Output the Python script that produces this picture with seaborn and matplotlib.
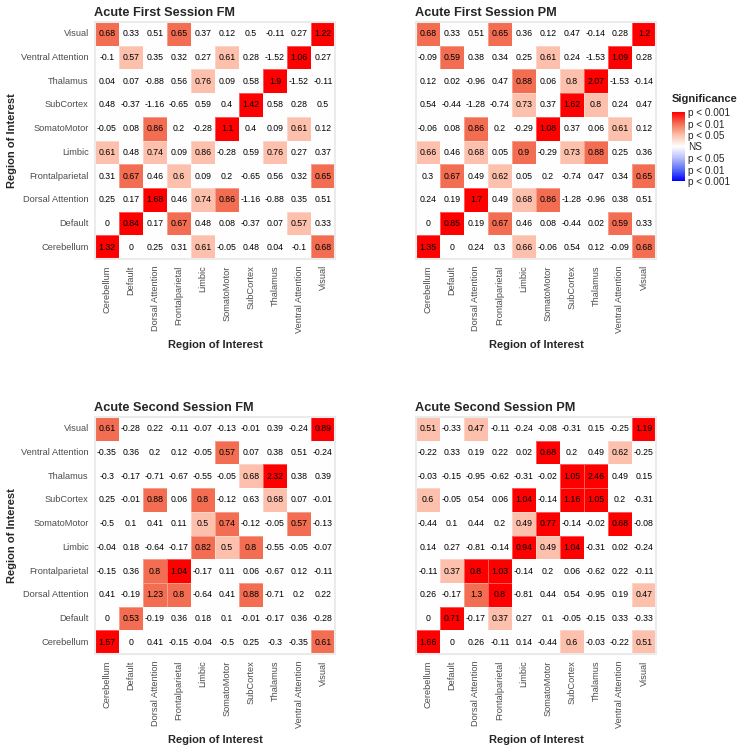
import numpy as np
import pandas as pd
import matplotlib
matplotlib.use("Agg")
import matplotlib.pyplot as plt
from matplotlib.colors import LinearSegmentedColormap
import seaborn as sns

# region names, rows listed top to bottom, columns left to right
rows = ["Visual", "Ventral Attention", "Thalamus", "SubCortex", "SomatoMotor",
        "Limbic", "Frontalparietal", "Dorsal Attention", "Default", "Cerebellum"]
cols = ["Cerebellum", "Default", "Dorsal Attention", "Frontalparietal", "Limbic",
        "SomatoMotor", "SubCortex", "Thalamus", "Ventral Attention", "Visual"]

titles = ["Acute First Session FM", "Acute First Session PM",
          "Acute Second Session FM", "Acute Second Session PM"]

# cell values (printed in the tiles)
first_fm = [
    [0.68, 0.33, 0.51, 0.65, 0.37, 0.12, 0.5, -0.11, 0.27, 1.22],
    [-0.1, 0.57, 0.35, 0.32, 0.27, 0.61, 0.28, -1.52, 1.06, 0.27],
    [0.04, 0.07, -0.88, 0.56, 0.76, 0.09, 0.58, 1.9, -1.52, -0.11],
    [0.48, -0.37, -1.16, -0.65, 0.59, 0.4, 1.42, 0.58, 0.28, 0.5],
    [-0.05, 0.08, 0.86, 0.2, -0.28, 1.1, 0.4, 0.09, 0.61, 0.12],
    [0.61, 0.48, 0.74, 0.09, 0.86, -0.28, 0.59, 0.76, 0.27, 0.37],
    [0.31, 0.67, 0.46, 0.6, 0.09, 0.2, -0.65, 0.56, 0.32, 0.65],
    [0.25, 0.17, 1.68, 0.46, 0.74, 0.86, -1.16, -0.88, 0.35, 0.51],
    [0, 0.84, 0.17, 0.67, 0.48, 0.08, -0.37, 0.07, 0.57, 0.33],
    [1.32, 0, 0.25, 0.31, 0.61, -0.05, 0.48, 0.04, -0.1, 0.68],
]
first_pm = [
    [0.68, 0.33, 0.51, 0.65, 0.36, 0.12, 0.47, -0.14, 0.28, 1.2],
    [-0.09, 0.59, 0.38, 0.34, 0.25, 0.61, 0.24, -1.53, 1.09, 0.28],
    [0.12, 0.02, -0.96, 0.47, 0.88, 0.06, 0.8, 2.07, -1.53, -0.14],
    [0.54, -0.44, -1.28, -0.74, 0.73, 0.37, 1.62, 0.8, 0.24, 0.47],
    [-0.06, 0.08, 0.86, 0.2, -0.29, 1.08, 0.37, 0.06, 0.61, 0.12],
    [0.66, 0.46, 0.68, 0.05, 0.9, -0.29, 0.73, 0.88, 0.25, 0.36],
    [0.3, 0.67, 0.49, 0.62, 0.05, 0.2, -0.74, 0.47, 0.34, 0.65],
    [0.24, 0.19, 1.7, 0.49, 0.68, 0.86, -1.28, -0.96, 0.38, 0.51],
    [0, 0.85, 0.19, 0.67, 0.46, 0.08, -0.44, 0.02, 0.59, 0.33],
    [1.35, 0, 0.24, 0.3, 0.66, -0.06, 0.54, 0.12, -0.09, 0.68],
]
second_fm = [
    [0.61, -0.28, 0.22, -0.11, -0.07, -0.13, -0.01, 0.39, -0.24, 0.89],
    [-0.35, 0.36, 0.2, 0.12, -0.05, 0.57, 0.07, 0.38, 0.51, -0.24],
    [-0.3, -0.17, -0.71, -0.67, -0.55, -0.05, 0.68, 2.32, 0.38, 0.39],
    [0.25, -0.01, 0.88, 0.06, 0.8, -0.12, 0.63, 0.68, 0.07, -0.01],
    [-0.5, 0.1, 0.41, 0.11, 0.5, 0.74, -0.12, -0.05, 0.57, -0.13],
    [-0.04, 0.18, -0.64, -0.17, 0.82, 0.5, 0.8, -0.55, -0.05, -0.07],
    [-0.15, 0.36, 0.8, 1.04, -0.17, 0.11, 0.06, -0.67, 0.12, -0.11],
    [0.41, -0.19, 1.23, 0.8, -0.64, 0.41, 0.88, -0.71, 0.2, 0.22],
    [0, 0.53, -0.19, 0.36, 0.18, 0.1, -0.01, -0.17, 0.36, -0.28],
    [1.57, 0, 0.41, -0.15, -0.04, -0.5, 0.25, -0.3, -0.35, 0.61],
]
second_pm = [
    [0.51, -0.33, 0.47, -0.11, -0.24, -0.08, -0.31, 0.15, -0.25, 1.19],
    [-0.22, 0.33, 0.19, 0.22, 0.02, 0.68, 0.2, 0.49, 0.62, -0.25],
    [-0.03, -0.15, -0.95, -0.62, -0.31, -0.02, 1.05, 2.46, 0.49, 0.15],
    [0.6, -0.05, 0.54, 0.06, 1.04, -0.14, 1.16, 1.05, 0.2, -0.31],
    [-0.44, 0.1, 0.44, 0.2, 0.49, 0.77, -0.14, -0.02, 0.68, -0.08],
    [0.14, 0.27, -0.81, -0.14, 0.94, 0.49, 1.04, -0.31, 0.02, -0.24],
    [-0.11, 0.37, 0.8, 1.03, -0.14, 0.2, 0.06, -0.62, 0.22, -0.11],
    [0.26, -0.17, 1.3, 0.8, -0.81, 0.44, 0.54, -0.95, 0.19, 0.47],
    [0, 0.71, -0.17, 0.37, 0.27, 0.1, -0.05, -0.15, 0.33, -0.33],
    [1.66, 0, 0.26, -0.11, 0.14, -0.44, 0.6, -0.03, -0.22, 0.51],
]

# significance level of each tile: 3 p<0.001, 2 p<0.01, 1 p<0.05, 0 NS
first_fm_sig = [
    [2, 0, 0, 2, 0, 0, 0, 0, 0, 3],
    [0, 1, 0, 0, 0, 1, 0, 0, 3, 0],
    [0, 0, 0, 0, 1, 0, 0, 3, 0, 0],
    [0, 0, 0, 0, 0, 0, 3, 0, 0, 0],
    [0, 0, 2, 0, 0, 3, 0, 0, 1, 0],
    [1, 0, 1, 0, 1, 0, 0, 1, 0, 0],
    [0, 2, 0, 1, 0, 0, 0, 0, 0, 2],
    [0, 0, 3, 0, 1, 2, 0, 0, 0, 0],
    [0, 3, 0, 2, 0, 0, 0, 0, 1, 0],
    [3, 0, 0, 0, 1, 0, 0, 0, 0, 2],
]
first_pm_sig = [
    [2, 0, 0, 2, 0, 0, 0, 0, 0, 3],
    [0, 2, 0, 0, 0, 1, 0, 0, 3, 0],
    [0, 0, 0, 0, 2, 0, 1, 3, 0, 0],
    [0, 0, 0, 0, 1, 0, 3, 1, 0, 0],
    [0, 0, 2, 0, 0, 3, 0, 0, 1, 0],
    [1, 0, 1, 0, 2, 0, 1, 2, 0, 0],
    [0, 2, 0, 1, 0, 0, 0, 0, 0, 2],
    [0, 0, 3, 0, 1, 2, 0, 0, 0, 0],
    [0, 3, 0, 2, 0, 0, 0, 0, 2, 0],
    [3, 0, 0, 0, 1, 0, 0, 0, 0, 2],
]
second_fm_sig = [
    [2, 0, 0, 0, 0, 0, 0, 0, 0, 3],
    [0, 0, 0, 0, 0, 2, 0, 0, 0, 0],
    [0, 0, 0, 0, 0, 0, 1, 3, 0, 0],
    [0, 0, 2, 0, 2, 0, 0, 1, 0, 0],
    [0, 0, 0, 0, 1, 2, 0, 0, 2, 0],
    [0, 0, 0, 0, 2, 1, 2, 0, 0, 0],
    [0, 0, 2, 3, 0, 0, 0, 0, 0, 0],
    [0, 0, 2, 2, 0, 0, 2, 0, 0, 0],
    [0, 2, 0, 0, 0, 0, 0, 0, 0, 0],
    [3, 0, 0, 0, 0, 0, 0, 0, 0, 2],
]
second_pm_sig = [
    [1, 0, 1, 0, 0, 0, 0, 0, 0, 3],
    [0, 0, 0, 0, 0, 3, 0, 0, 1, 0],
    [0, 0, 0, 0, 0, 0, 3, 3, 0, 0],
    [1, 0, 0, 0, 3, 0, 3, 3, 0, 0],
    [0, 0, 0, 0, 1, 3, 0, 0, 3, 0],
    [0, 0, 0, 0, 3, 1, 3, 0, 0, 0],
    [0, 1, 3, 3, 0, 0, 0, 0, 0, 0],
    [0, 0, 2, 3, 0, 0, 0, 0, 0, 1],
    [0, 3, 0, 1, 0, 0, 0, 0, 0, 0],
    [3, 0, 0, 0, 0, 0, 1, 0, 0, 1],
]

sig_labels = ["p < 0.001", "p < 0.01", "p < 0.05", "NS", "p < 0.05", "p < 0.01", "p < 0.001"]
sig_levels = [3, 2, 1, 0, -1, -2, -3]

values = [first_fm, first_pm, second_fm, second_pm]
sigs = [first_fm_sig, first_pm_sig, second_fm_sig, second_pm_sig]

sns.set_style("white")
plt.rcParams["font.family"] = ["Liberation Sans", "DejaVu Sans"]

cmap = LinearSegmentedColormap.from_list(
    "sig", [(0.0, "#0000FF"), (1/6, "#5A6EF4"), (2/6, "#B8BEFC"), (0.5, "#FFFFFF"),
            (4/6, "#FCC0AC"), (5/6, "#F26E52"), (1.0, "#FF0000")])

W, H = 743, 753
fig = plt.figure(figsize=(W / 100, H / 100), dpi=100)

# panel rectangles in pixels: left, top
lefts = [95, 416, 95, 416]
tops = [22, 22, 417, 417]
pw, ph = 240, 237

cax = fig.add_axes([672 / W, 1 - 181 / H, 13 / W, 69 / H])

for i in range(4):
    ax = fig.add_axes([lefts[i] / W, 1 - (tops[i] + ph) / H, pw / W, ph / H])
    sig_df = pd.DataFrame(sigs[i], index=rows, columns=cols)
    labels = np.array([[f"{v:g}" for v in r] for r in values[i]])
    sns.heatmap(sig_df, ax=ax, cmap=cmap, vmin=-3, vmax=3, annot=labels, fmt="",
                annot_kws={"fontsize": 6.3, "color": "black"},
                linewidths=0.4, linecolor=(1, 1, 1, 0.35),
                cbar=(i == 0), cbar_ax=cax if i == 0 else None)
    ax.set_title(titles[i], loc="left", fontsize=9.2, fontweight="bold", pad=4, x=-0.005)
    for s in ax.spines.values():
        s.set_visible(True)
        s.set_color("#EBEBEB")
        s.set_linewidth(1.5)
    ax.tick_params(axis="x", length=2.5, width=0.6, color="#333333", labelsize=6.7,
                   labelcolor="#4D4D4D", pad=2, rotation=90)
    ax.set_xlabel("Region of Interest", fontsize=8, fontweight="bold", labelpad=5)
    if i % 2 == 0:
        ax.tick_params(axis="y", length=2.5, width=0.6, color="#333333", labelsize=6.7,
                       labelcolor="#4D4D4D", pad=2, rotation=0)
        ax.set_ylabel("Region of Interest", fontsize=8, fontweight="bold", labelpad=3)
    else:
        ax.set_yticks([])
        ax.set_ylabel("")

cb = cax.collections[0].colorbar if cax.collections else None
cax.set_yticks(sig_levels)
cax.set_yticklabels(sig_labels)
cax.tick_params(length=0, labelsize=7.2, pad=2)
for s in cax.spines.values():
    s.set_visible(False)
if cb is not None:
    cb.outline.set_visible(False)
cax.set_title("Significance", loc="left", fontsize=8, fontweight="bold", pad=7)

fig.savefig("out.png", dpi=100)
